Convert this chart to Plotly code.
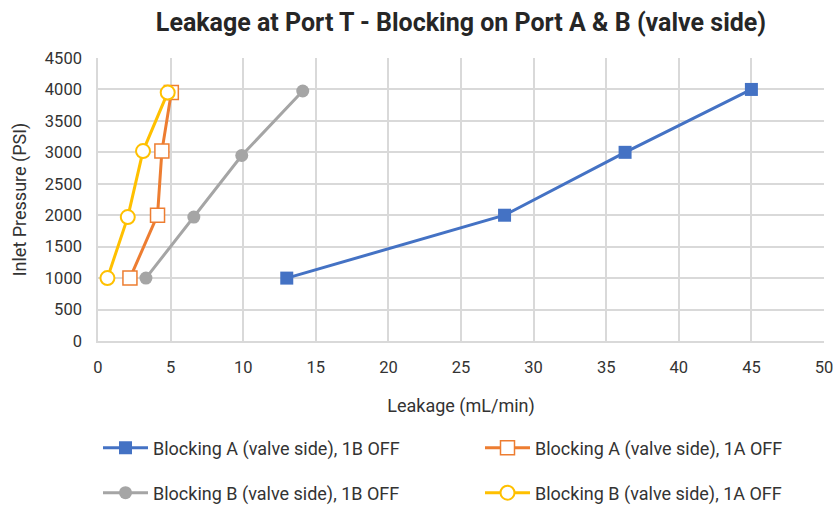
import plotly.graph_objects as go

FONT = "Roboto, Liberation Sans, sans-serif"

names = [
    "Blocking A (valve side), 1B OFF",
    "Blocking A (valve side), 1A OFF",
    "Blocking B (valve side), 1B OFF",
    "Blocking B (valve side), 1A OFF",
]
leak_a_1b = [13.0, 28.0, 36.3, 45.0]
press_a_1b = [1000, 2000, 3000, 4000]
leak_a_1a = [2.2, 4.1, 4.4, 5.05]
press_a_1a = [1000, 2000, 3020, 3950]
leak_b_1b = [3.3, 6.6, 9.9, 14.1]
press_b_1b = [1000, 1970, 2950, 3975]
leak_b_1a = [0.65, 2.05, 3.1, 4.8]
press_b_1a = [1000, 1970, 3020, 3950]

x_ticks = [0, 5, 10, 15, 20, 25, 30, 35, 40, 45, 50]
y_ticks = [0, 500, 1000, 1500, 2000, 2500, 3000, 3500, 4000, 4500]

fig = go.Figure()

fig.add_trace(go.Scatter(
    x=leak_a_1b, y=press_a_1b, name=names[0], mode="lines+markers",
    line=dict(color="#4472C4", width=3),
    marker=dict(symbol="square", size=13, color="#4472C4"),
    legend="legend", showlegend=True,
))
fig.add_trace(go.Scatter(
    x=leak_a_1a, y=press_a_1a, name=names[1], mode="lines+markers",
    line=dict(color="#ED7D31", width=3),
    marker=dict(symbol="square", size=14, color="white",
                line=dict(color="#ED7D31", width=1.5)),
    legend="legend2", showlegend=True,
))
fig.add_trace(go.Scatter(
    x=leak_b_1b, y=press_b_1b, name=names[2], mode="lines+markers",
    line=dict(color="#A5A5A5", width=3),
    marker=dict(symbol="circle", size=13, color="#A5A5A5"),
    legend="legend3", showlegend=True,
))
fig.add_trace(go.Scatter(
    x=leak_b_1a, y=press_b_1a, name=names[3], mode="lines+markers",
    line=dict(color="#FFC000", width=3),
    marker=dict(symbol="circle", size=14, color="white",
                line=dict(color="#FFC000", width=2)),
    legend="legend4", showlegend=True,
))

PLOT_W = 836 - 98 - 12
PLOT_H = 508 - 58 - 167


def leg(px_x, px_y):
    return dict(
        visible=True,
        orientation="h", xref="paper", x=(px_x - 98) / PLOT_W, xanchor="left",
        yref="paper", y=(341 - px_y) / PLOT_H, yanchor="middle",
        itemwidth=45, font=dict(family=FONT, size=18, color="#333333"),
        bgcolor="rgba(0,0,0,0)", borderwidth=0,
    )


fig.update_layout(
    width=836, height=508,
    showlegend=True,
    margin=dict(l=98, r=12, t=58, b=167, autoexpand=False),
    paper_bgcolor="white", plot_bgcolor="white",
    font=dict(family=FONT, size=16, color="#333333"),
    title=dict(
        text="<b>Leakage at Port T - Blocking on Port A & B (valve side)</b>",
        x=0.5, xref="paper", xanchor="center",
        y=1 - 22 / 508, yref="container", yanchor="middle",
        font=dict(family=FONT, size=25, color="#262626"),
    ),
    xaxis=dict(
        range=[0, 50], tickvals=x_ticks, ticktext=[str(v) for v in x_ticks],
        showgrid=True, gridcolor="#D9D9D9", gridwidth=1.5,
        showline=True, linecolor="#D9D9D9", linewidth=1.5,
        zeroline=False, ticks="", ticklabelstandoff=10,
        tickfont=dict(family=FONT, size=16.5, color="#333333"),
        title=dict(text="Leakage (mL/min)", standoff=24,
                   font=dict(family=FONT, size=18, color="#333333")),
    ),
    yaxis=dict(
        range=[0, 4500], tickvals=y_ticks, ticktext=[str(v) for v in y_ticks],
        showgrid=True, gridcolor="#D9D9D9", gridwidth=1.5,
        showline=True, linecolor="#D9D9D9", linewidth=1.5,
        zeroline=False, ticks="", ticklabelstandoff=11,
        tickfont=dict(family=FONT, size=16.5, color="#333333"),
        title=dict(text="Inlet Pressure (PSI)", standoff=14,
                   font=dict(family=FONT, size=18, color="#333333")),
    ),
    legend=leg(98, 448),
    legend2=leg(480, 448),
    legend3=leg(98, 493),
    legend4=leg(480, 493),
)

fig.write_html(
    "out.html",
    config={"displayModeBar": False},
    post_script="document.body.style.margin='0';document.body.style.padding='0';",
)
